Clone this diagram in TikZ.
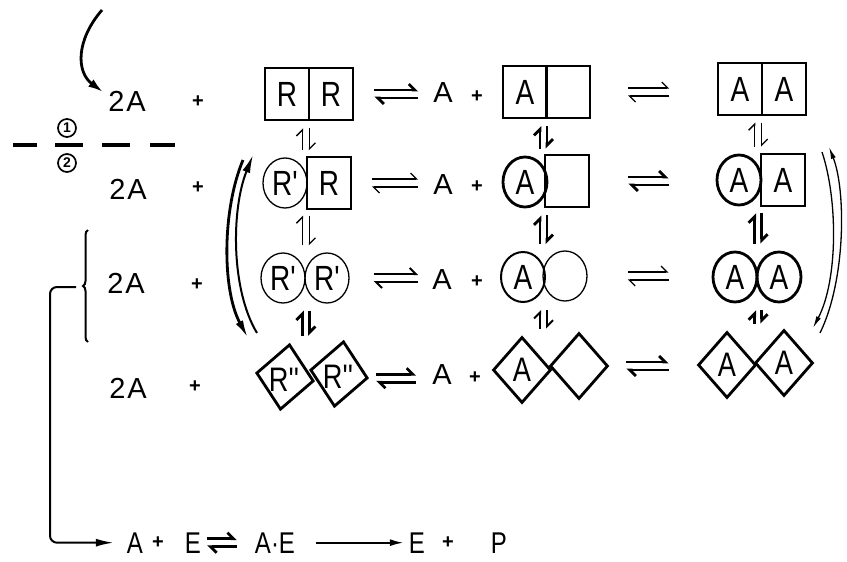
\documentclass[tikz,border=0pt]{standalone}
\usepackage{fontspec}
\setmainfont{Liberation Sans}
\newfontfamily\narrowfont{Liberation Sans}[FakeStretch=0.8]
\usetikzlibrary{arrows.meta,shapes.geometric,decorations.pathreplacing,calc}

% half-headed double arrow between two horizontal neighbours
\newcommand\eqh[5]{%
  \draw[#3,hp,shorten <=#4,shorten >=#5] ($(#1.east)+(0,-4)$) -- ($(#1.east -| #2.west)+(0,-4)$);
  \draw[#3,hp,shorten <=#5,shorten >=#4] ($(#1.east -| #2.west)+(0,4)$) -- ($(#1.east)+(0,4)$);
}
% half-headed double arrow between two rows; #3 fixes the x position
\newcommand\updown[4]{%
  \draw[#4,hp,shorten <=7pt,shorten >=7pt] ($(#3 |- #2.north)+(-8,0)$) -- ($(#3 |- #1.south)+(-8,0)$);
  \draw[#4,hp,shorten <=7pt,shorten >=7pt] ($(#3 |- #1.south)+(-1,0)$) -- ($(#3 |- #2.north)+(-1,0)$);
}

\begin{document}
\begin{tikzpicture}[x=1pt,y=-1pt,
  txt/.style={font=\fontsize{29}{31}\selectfont, inner sep=1pt},
  btxt/.style={font=\narrowfont\fontsize{30}{32}\selectfont, inner sep=1pt, text depth=0pt, anchor=base},
  plus/.style={font=\fontsize{20}{22}\selectfont\bfseries, inner sep=1pt},
  unit/.style={draw, inner sep=0pt, font=\narrowfont\fontsize{35}{37}\selectfont, minimum width=44pt},
  sq/.style={unit, rectangle, minimum height=52pt},
  ov/.style={unit, ellipse, minimum height=50pt},
  dm/.style={draw, diamond, inner sep=0pt, minimum width=58pt, minimum height=66pt, font=\narrowfont\fontsize{34}{36}\selectfont},
  rr/.style={font=\narrowfont\fontsize{34}{36}\selectfont, inner sep=0pt},
  lt/.style={line width=1.3pt},
  md/.style={line width=2pt},
  hv/.style={line width=2.8pt},
  hp/.style={-{Straight Barb[left,length=6pt,width=12pt]}},
  bighead/.style={-{Latex[length=18pt,width=8pt]}},
  smallhead/.style={-{Latex[length=12pt,width=5pt]}},
  num/.style={circle,draw,line width=1.7pt,minimum size=18pt,inner sep=0pt,font=\bfseries\fontsize{14}{14}\selectfont},
]
\useasboundingbox (0,0) rectangle (847,562);

% ---- reactant column ----
\node[txt] (l1) at (127,101) {2\kern2ptA};
\node[txt] (l2) at (128,189) {2\kern2ptA};
\node[txt] (l3) at (126,283) {2\kern2ptA};
\node[txt] (l4) at (128,388) {2\kern2ptA};
\node[plus] (q1) at (198,102) {+};
\node[plus] (q2) at (198,188) {+};
\node[plus] (q3) at (197,285) {+};
\node[plus] (q4) at (195,387) {+};

% ---- row 1 ----
\node[sq,hv] (m1a) at (287,94) {R};
\node[sq,hv] (m1b) at (331,94) {R};
\node[txt] (a1) at (443,93) {A};
\node[plus] (s1) at (477,97) {+};
\node[sq,md] (n1a) at (525,92) {A};
\node[sq,md] (n1b) at (568,92) {};
\node[sq,lt] (p1a) at (740,89) {A};
\node[sq,lt] (p1b) at (784,89) {A};

% ---- row 2 ----
\node[ov,lt] (m2a) at (285,183) {R'};
\node[sq,md] (m2b) at (329,183) {R};
\node[txt] (a2) at (443,185) {A};
\node[plus] (s2) at (477,187) {+};
\node[ov,hv] (n2a) at (525,182) {A};
\node[sq,hv] (n2b) at (567,181) {};
\node[ov,hv] (p2a) at (739,180) {A};
\node[sq,hv] (p2b) at (783,180) {A};

% ---- row 3 ----
\node[ov,lt] (m3a) at (283,278) {R'};
\node[ov,lt] (m3b) at (327,278) {R'};
\node[txt] (a3) at (442,280) {A};
\node[plus] (s3) at (477,282) {+};
\node[ov,md] (n3a) at (523,277) {A};
\node[ov,lt] (n3b) at (565,276) {};
\node[ov,hv] (p3a) at (735,277) {A};
\node[ov,hv] (p3b) at (779,277) {A};

% ---- row 4 ----
\node[dm,hv,rotate=-8] (m4a) at (285,377) {};
\node[dm,hv,rotate=-8] (m4b) at (339,374) {};
\node[rr] (m4at) at (284,380) {R''};
\node[rr] (m4bt) at (338,377) {R''};
\node[txt] (a4) at (442,375) {A};
\node[plus] (s4) at (475,378) {+};
\node[dm,hv] (n4a) at (522,370) {A};
\node[dm,hv] (n4b) at (579,366) {};
\node[dm,hv] (p4a) at (727,365) {A};
\node[dm,hv] (p4b) at (784,363) {A};

% ---- horizontal equilibria ----
\eqh{m1b}{a1}{hv}{20pt}{14pt}
\eqh{n1b}{p1a}{lt}{37pt}{48pt}
\eqh{m2b}{a2}{lt}{20pt}{14pt}
\eqh{n2b}{p2a}{hv}{38pt}{47pt}
\eqh{m3b}{a3}{md}{24pt}{13pt}
\eqh{n3b}{p3a}{lt}{40pt}{43pt}
\eqh{m4b}{a4}{hv}{7pt}{15pt}
\eqh{n4b}{p4a}{hv}{17pt}{28pt}

% ---- vertical equilibria ----
\updown{m1a}{m2a}{m1a.east}{lt}
\updown{n1a}{n2a}{n1a.east}{hv}
\updown{p1a}{p2a}{p1a.east}{lt}
\updown{m2a}{m3a}{m1a.east}{lt}
\updown{n2a}{n3a}{n1a.east}{hv}
\updown{p2a}{p3a}{p1a.east}{hv}
\updown{m3a}{m4a}{m1a.east}{hv}
\updown{n3a}{n4a}{n1a.east}{md}
\updown{p3a}{p4a}{p1a.east}{hv}

% ---- feed arrow ----
\coordinate (feed) at (102,10);
\coordinate (feedend) at (103,92);
\draw[hv,-{Latex[length=15pt,width=9pt]}] (feed) .. controls (76,40) and (76,72) .. (feedend);

% ---- divider with circled numbers ----
\draw[line width=3.2pt, dash pattern=on 24pt off 18pt on 28pt off 19pt on 28pt off 20pt on 25pt] (13,145) -- (175,145);
\node[num] (k1) at (67,128) {1};
\node[num] (k2) at (67,163) {2};

% ---- cycle arrows, left ----
\coordinate (lo1) at (243,160);
\coordinate (lo2) at (248,338);
\coordinate (li1) at (257,333);
\coordinate (li2) at (253,155);
\draw[hv,bighead] (lo1) .. controls (222,210) and (222,290) .. (lo2);
\draw[md,bighead] (li1) .. controls (231,290) and (231,210) .. (li2);

% ---- cycle arrows, right ----
\coordinate (ro1) at (820,333);
\coordinate (ro2) at (829,147);
\coordinate (ri1) at (822,152);
\coordinate (ri2) at (813,328);
\draw[lt,smallhead] (ro1) .. controls (846,280) and (846,190) .. (ro2);
\draw[lt,smallhead] (ri1) .. controls (838,200) and (838,280) .. (ri2);

% ---- brace and enzyme branch ----
\draw[md, decorate, decoration={brace, amplitude=5pt}] (88,342) -- (88,230);
\coordinate (brtip) at (76,287);
\coordinate (bend) at (50,287);

\node[btxt] (bA) at (135,553) {A};
\node[plus] (bp1) at (158,543) {+};
\node[btxt] (bE) at (193,553) {E};
\node[btxt] (bAE) at (275,553) {A·E};
\node[btxt] (bE2) at (417,553) {E};
\node[plus] (bp2) at (448,543) {+};
\node[btxt] (bP) at (499,553) {P};

\draw[md, rounded corners=7pt, -{Latex[length=18pt,width=8pt]}, shorten >=12pt] (brtip) -- (bend) |- (bA.west);
\eqh{bE}{bAE}{hv}{5pt}{17pt}
\draw[md, -{Latex[length=14pt,width=7pt]}, shorten <=20pt, shorten >=4pt] (bAE.east) -- (bE2.west);
\end{tikzpicture}
\end{document}
